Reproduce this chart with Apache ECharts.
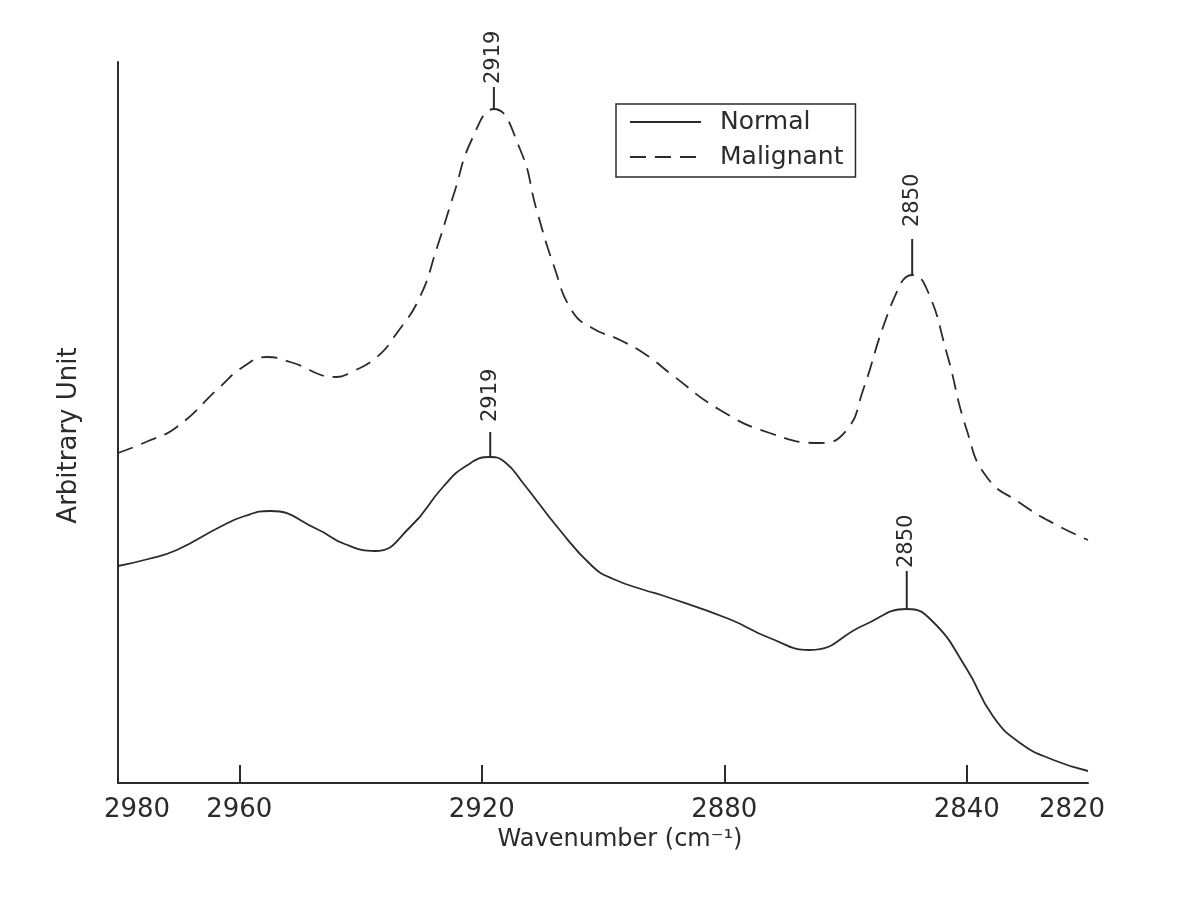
<!DOCTYPE html>
<html>
<head>
<meta charset="utf-8">
<script src="https://cdn.jsdelivr.net/npm/echarts@6/dist/echarts.min.js"></script>
<style>
html,body{margin:0;padding:0;background:#fff;}
#chart{width:1200px;height:919px;}
</style>
</head>
<body>
<div id="chart"></div>
<script>
// ---- data ----
const normalWavenumber = [2980, 2975, 2970.3, 2963.2, 2959.1, 2954.9, 2947.2, 2942.6, 2937.6, 2931.8, 2926.4, 2922.6, 2918.6, 2916.2, 2913.2, 2907.4, 2901.8, 2898.3, 2892.7, 2890.4, 2879.2, 2872.5, 2865.9, 2856.9, 2849.9, 2845.7, 2840.1, 2835.7, 2831.2, 2825.7, 2820];
const normalIntensity  = [217, 224, 233, 256, 267, 272, 254, 239, 232, 256, 296, 317, 326, 321, 300, 255, 217, 204, 192, 188, 164, 145, 133, 158, 174, 162, 115, 67, 40, 23, 12];
const malignantWavenumber = [2980, 2975, 2970.3, 2963.2, 2959.4, 2955.4, 2951.6, 2943.9, 2941.8, 2937.3, 2934.0, 2930.2, 2927.4, 2924.6, 2921.6, 2918.0, 2913.7, 2910.9, 2908.1, 2905.1, 2901.8, 2897.2, 2892.6, 2889.0, 2880.7, 2872.5, 2864.2, 2859.8, 2857.1, 2853.8, 2851.0, 2850.0, 2849.0, 2846.6, 2843.3, 2840.0, 2836.7, 2831.2, 2825.8, 2820];
const malignantIntensity  = [330, 342, 356, 396, 416, 426, 421, 406, 410, 426, 450, 486, 535, 589, 644, 674, 634, 572, 517, 472, 455, 443, 427, 410, 373, 350, 340, 353, 393, 456, 498, 506, 508, 494, 430, 353, 306, 280, 260, 243];
const peakLabels = [2919, 2850];
const xTickLabels = [2980, 2960, 2920, 2880, 2840, 2820];
const xTicks = [2960, 2920, 2880, 2840];
const seriesNames = ['Normal', 'Malignant'];

// ---- styles ----
const INK = '#2b2b2b';
const FONT = 'DejaVu Sans';
const stemStyle = { // [stem length px, text gap px] per series per peak
  Normal: [[25, 10], [38, 3]],
  Malignant: [[22, 3], [36, 12]]
};

function pairs(xs, ys) { return xs.map((w, i) => [w, ys[i]]); }

const seriesData = {
  Normal: [normalWavenumber, normalIntensity],
  Malignant: [malignantWavenumber, malignantIntensity]
};
const annotations = [];
seriesNames.forEach(name => {
  const [xs, ys] = seriesData[name];
  peakLabels.forEach((p, k) => {
    let best = -1;
    xs.forEach((x, i) => { if (Math.abs(x - p) < 3 && (best < 0 || ys[i] > ys[best])) best = i; });
    annotations.push({ value: [xs[best], ys[best]], label: String(p), len: stemStyle[name][k][0], gap: stemStyle[name][k][1] });
  });
});

const chart = echarts.init(document.getElementById('chart'), null, { renderer: 'canvas' });
chart.setOption({
  backgroundColor: '#ffffff',
  animation: false,
  grid: { left: 118, right: 112, top: 62, bottom: 136, containLabel: false },
  legend: {
    data: seriesNames,
    orient: 'vertical',
    left: 616, top: 104,
    borderColor: INK, borderWidth: 1.5,
    padding: [4, 12, 6, 13],
    itemWidth: 71, itemHeight: 14, itemGap: 7,
    itemStyle: { opacity: 0 },
    textStyle: { fontFamily: FONT, fontSize: 25, color: INK, lineHeight: 28, padding: [0, 0, 0, 14] },
    selectedMode: false
  },
  xAxis: {
    type: 'value', min: 2820, max: 2980, interval: 20, inverse: true,
    name: 'Wavenumber (cm\u207B\u00B9)', nameLocation: 'middle', nameGap: 36,
    nameTextStyle: { fontFamily: FONT, fontSize: 24, color: INK, padding: [0, 0, 0, 34] },
    axisLine: { show: true, lineStyle: { color: INK, width: 2 } },
    axisTick: { show: true, inside: true, length: 18, customValues: xTicks, lineStyle: { color: INK, width: 2 } },
    axisLabel: {
      show: true, customValues: xTickLabels, margin: 14,
      fontFamily: FONT, fontSize: 26, color: INK,
      formatter: v => v === 2980 ? '{l|' + v + '}' : (v === 2820 ? '{r|' + v + '}' : String(v)),
      rich: {
        l: { fontFamily: FONT, fontSize: 26, color: INK, padding: [0, 0, 0, 38] },
        r: { fontFamily: FONT, fontSize: 26, color: INK, padding: [0, 32, 0, 0] }
      }
    },
    splitLine: { show: false }
  },
  yAxis: {
    type: 'value', min: 0, max: 721,
    name: 'Arbitrary Unit', nameLocation: 'middle', nameGap: 36,
    nameTextStyle: { fontFamily: FONT, fontSize: 26, color: INK, padding: [0, 26, 0, 0] },
    axisLine: { show: true, lineStyle: { color: INK, width: 2 } },
    axisTick: { show: false }, axisLabel: { show: false }, splitLine: { show: false }
  },
  series: [
    {
      name: 'Normal', type: 'line', data: pairs(normalWavenumber, normalIntensity),
      smooth: 0.5, symbol: 'none', showSymbol: false,
      lineStyle: { color: INK, width: 1.8, type: 'solid' },
      itemStyle: { color: INK }
    },
    {
      name: 'Malignant', type: 'line', data: pairs(malignantWavenumber, malignantIntensity),
      smooth: 0.5, symbol: 'none', showSymbol: false,
      lineStyle: { color: INK, width: 1.8, type: [16, 9] },
      itemStyle: { color: INK }
    },
    {
      type: 'custom', silent: true, z: 5,
      data: annotations.map(a => a.value),
      renderItem: (params, api) => {
        const a = annotations[params.dataIndex];
        const p = api.coord([api.value(0), api.value(1)]);
        return {
          type: 'group',
          children: [
            { type: 'line', shape: { x1: p[0], y1: p[1], x2: p[0], y2: p[1] - a.len }, style: { stroke: INK, lineWidth: 2 } },
            { type: 'text', x: p[0], y: p[1] - a.len - a.gap, rotation: Math.PI / 2,
              style: { text: a.label, fontFamily: FONT, fontSize: 21, fill: INK, align: 'left', verticalAlign: 'middle' } }
          ]
        };
      }
    }
  ]
});
</script>
</body>
</html>
